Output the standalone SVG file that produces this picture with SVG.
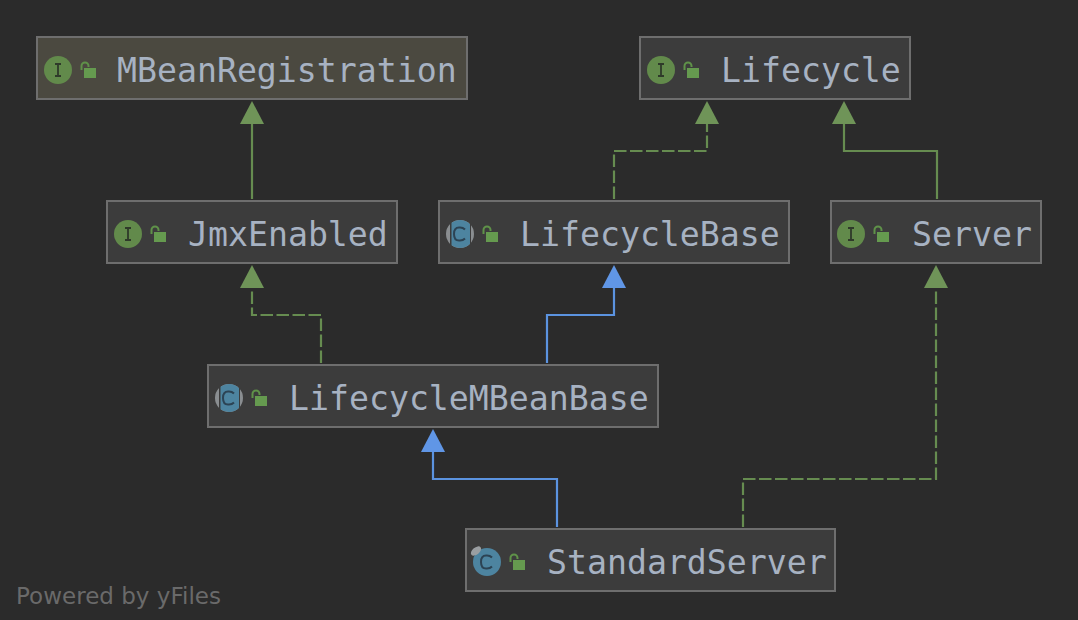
<svg xmlns="http://www.w3.org/2000/svg" width="1078" height="620" viewBox="0 0 1078 620">
<style>
.box{fill:#3c3c3c;stroke:#6e6e6e;stroke-width:2}
.t{font-family:"DejaVu Sans Mono",monospace;font-size:33.2px;fill:#a7b2c2}
.ib{fill:#628a4b}
.cb{fill:#4d84a0}
.lk{fill:#659a4f}
.ls{fill:none;stroke:#5f9249;stroke-width:2}
.g{fill:none;stroke:#668c50;stroke-width:2.2}
.d{stroke-dasharray:12.500 3.500}
.b{fill:none;stroke:#5b93e0;stroke-width:2.2}
.ag{fill:#6f9458}
.ab{fill:#6096e6}
</style>
<defs>
<g id="lock"><rect x="4" y="-1" width="12" height="10" class="lk"/><path d="M1.500 1 v-4 a3.500 3.500 0 0 1 7 0 v1" class="ls"/></g>
<g id="ii"><circle r="14" class="ib"/><path d="M-3 -6 h6 M0 -6 v12 M-3 6 h6" fill="none" stroke="#2f3a2a" stroke-width="1.800"/></g>
<path id="cg" d="M5 -4.500 Q3 -6.500 0 -6.500 H-1 Q-6 -6.500 -6 0 Q-6 6.500 -1 6.500 H0 Q3 6.500 5 4.500" fill="none" stroke="#2c4354" stroke-width="2"/>
<g id="cc"><circle r="14" fill="#8a8e91"/><rect x="-10" y="-14" width="2" height="28" fill="#3c3c3c"/><rect x="10" y="-14" width="1" height="28" fill="#3c3c3c"/><path d="M-8.500 -11.200 a14 14 0 0 1 18.500 1.400 v19.600 a14 14 0 0 1 -18.500 1.400z" class="cb"/><use href="#cg"/></g>
</defs>
<rect width="1078" height="620" fill="#2b2b2b"/>
<g id="connectors">
<path class="g" d="M252 199V122"/>
<path class="g d" d="M321 363V315H252V286"/>
<path class="g d" d="M614 199V151H707V122"/>
<path class="g" d="M937 199V151H844V122"/>
<path class="b" d="M547 363V315H614V286"/>
<path class="b" d="M557 527V479H433V450"/>
<path class="g d" d="M743 527V479H936V286"/>
<path class="ag" d="M252 101l12 23h-24z"/>
<path class="ag" d="M252 265l12 23h-24z"/>
<path class="ag" d="M707 101l12 23h-24z"/>
<path class="ag" d="M844 101l12 23h-24z"/>
<path class="ab" d="M614 265l12 23h-24z"/>
<path class="ab" d="M433 429l12 23h-24z"/>
<path class="ag" d="M936 265l12 23h-24z"/>
</g>
<g id="MBeanRegistration"><rect x="37" y="37" width="430" height="62" class="box" style="fill:#4b4940"/><use href="#ii" x="58" y="70"/><use href="#lock" x="80" y="69"/><text x="117" y="82" class="t">MBeanRegistration</text></g>
<g id="Lifecycle"><rect x="640" y="37" width="270" height="62" class="box"/><use href="#ii" x="661" y="70"/><use href="#lock" x="683" y="69"/><text x="721" y="82" class="t">Lifecycle</text></g>
<g id="JmxEnabled"><rect x="107" y="201" width="290" height="62" class="box"/><use href="#ii" x="128" y="234"/><use href="#lock" x="150" y="233"/><text x="188" y="246" class="t">JmxEnabled</text></g>
<g id="LifecycleBase"><rect x="439" y="201" width="350" height="62" class="box"/><use href="#cc" x="460" y="234"/><use href="#lock" x="482" y="233"/><text x="520" y="246" class="t">LifecycleBase</text></g>
<g id="Server"><rect x="831" y="201" width="210" height="62" class="box"/><use href="#ii" x="851" y="234"/><use href="#lock" x="873" y="233"/><text x="912" y="246" class="t">Server</text></g>
<g id="LifecycleMBeanBase"><rect x="208" y="365" width="450" height="62" class="box"/><use href="#cc" x="229" y="398"/><use href="#lock" x="251" y="397"/><text x="289" y="410" class="t">LifecycleMBeanBase</text></g>
<g id="StandardServer"><rect x="466" y="529" width="369" height="62" class="box"/><circle cx="487" cy="562" r="14" class="cb"/><use href="#cg" x="487" y="562"/><ellipse cx="476" cy="551" rx="6" ry="3.500" transform="rotate(-40 476 551)" fill="#9a9ea1"/><use href="#lock" x="509" y="561"/><text x="547" y="574" class="t">StandardServer</text></g>
<text x="16" y="604" font-family="'DejaVu Sans',sans-serif" font-size="22.500" textLength="205" lengthAdjust="spacingAndGlyphs" fill="#6a6a6a">Powered by yFiles</text>
</svg>
